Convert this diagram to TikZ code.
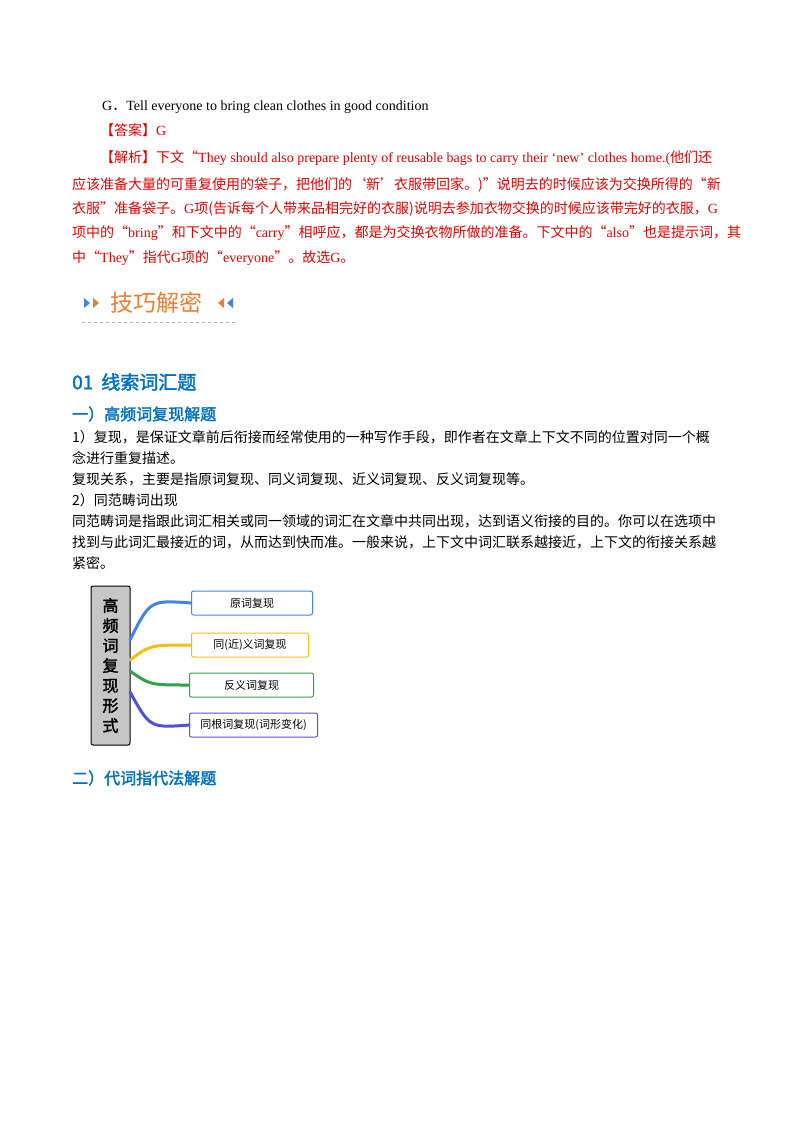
\documentclass[tikz,border=0pt]{standalone}
\usepackage{fontspec}
\setmainfont{Liberation Serif}
\newfontfamily\cjk{Noto Sans CJK SC}
\newfontfamily\cjkb{Noto Sans CJK SC}[FakeBold=2]
\newcommand\zh[1]{{\cjk #1}}
\definecolor{ansred}{RGB}{230,0,0}
\definecolor{hblue}{RGB}{0,112,192}
\definecolor{orng}{RGB}{237,125,49}
\definecolor{c1}{RGB}{70,130,230}
\definecolor{c2}{RGB}{245,190,20}
\definecolor{c3}{RGB}{50,160,70}
\definecolor{c4}{RGB}{80,80,220}
\begin{document}
\begin{tikzpicture}[x=1pt,y=-1pt,
  txt/.style={anchor=base west,inner sep=0pt,font=\fontsize{14}{14}\selectfont},
  red/.style={txt,text=ansred},
  bbox/.style={draw,rounded corners=2pt,line width=1pt,minimum height=24pt,anchor=west,inner xsep=10pt,font=\cjk\fontsize{11}{11}\selectfont},
  link/.style={line width=3pt,line cap=round}]
\useasboundingbox (0,0) rectangle (800,1132);
\node[txt] (l1) at (102,110) {G\zh{．}Tell everyone to bring clean clothes in good condition};
\node[red] (l2) at (100,135) {\zh{【答案】}G};
\node[red] (l3) at (100,162) {\zh{【解析】下文“}They should also prepare plenty of reusable bags to carry their ‘new’ clothes home.(\zh{他们还}};
\node[red] (l4) at (72,189) {\zh{应该准备大量的可重复使用的袋子，把他们的‘新’衣服带回家。)”说明去的时候应该为交换所得的“新}};
\node[red] (l5) at (72,213) {\zh{衣服”准备袋子。}G\zh{项(告诉每个人带来品相完好的衣服)说明去参加衣物交换的时候应该带完好的衣服，}G};
\node[red] (l6) at (72,237) {\zh{项中的“}bring\zh{”和下文中的“}carry\zh{”相呼应，都是为交换衣物所做的准备。下文中的“}also\zh{”也是提示词，其}};
\node[red] (l7) at (72,262) {\zh{中“}They\zh{”指代}G\zh{项的“}everyone\zh{”。故选}G\zh{。}};
% tips heading
\fill[c1] (84,298) -- (90,303) -- (84,308) -- cycle;
\fill[orng] (93,298) -- (99,303) -- (93,308) -- cycle;
\node[anchor=west,inner sep=0pt,text=orng,font=\cjk\fontsize{23}{23}\selectfont] (tips) at (110,303) {技巧解密};
\fill[orng] (224,298) -- (218,303) -- (224,308) -- cycle;
\fill[c1] (233,298) -- (227,303) -- (233,308) -- cycle;
\draw[gray!60,dashed,line width=0.6pt] (82,322) -- (236,322);
\node[anchor=west,inner sep=0pt,text=hblue,font=\cjkb\fontsize{19}{19}\selectfont] (h1) at (72,382) {01\hspace{8pt}线索词汇题};
\node[anchor=west,inner sep=0pt,text=hblue,font=\cjkb\fontsize{16}{16}\selectfont] (h2) at (72,414) {一）高频词复现解题};
\node[txt] (b1) at (72,442) {\zh{1）复现，是保证文章前后衔接而经常使用的一种写作手段，即作者在文章上下文不同的位置对同一个概}};
\node[txt] (b2) at (72,463) {\zh{念进行重复描述。}};
\node[txt] (b3) at (72,484) {\zh{复现关系，主要是指原词复现、同义词复现、近义词复现、反义词复现等。}};
\node[txt] (b4) at (72,505) {\zh{2）同范畴词出现}};
\node[txt] (b5) at (72,526) {\zh{同范畴词是指跟此词汇相关或同一领域的词汇在文章中共同出现，达到语义衔接的目的。你可以在选项中}};
\node[txt] (b6) at (72,547) {\zh{找到与此词汇最接近的词，从而达到快而准。一般来说，上下文中词汇联系越接近，上下文的衔接关系越}};
\node[txt] (b7) at (72,568) {\zh{紧密。}};
% diagram
\node[draw,fill=gray!45,rounded corners=2pt,line width=1pt,minimum width=39pt,minimum height=159pt,align=center,font=\cjkb\fontsize{16}{20}\selectfont] (root) at (110.5,665.5) {高\\频\\词\\复\\现\\形\\式};
\node[bbox,draw=c1,minimum width=121pt] (n1) at (191,603) {原词复现};
\node[bbox,draw=c2,minimum width=117pt] (n2) at (191,645) {同(近)义词复现};
\node[bbox,draw=c3,minimum width=124pt] (n3) at (189,685) {反义词复现};
\node[bbox,draw=c4,minimum width=128pt] (n4) at (189,725) {同根词复现(词形变化)};
\coordinate (r1) at (130,640);
\coordinate (r2) at (130,660);
\coordinate (r3) at (130,671);
\coordinate (r4) at (130,692);
\draw[link,c1] (r1) .. controls (150,600) .. (n1.west);
\draw[link,c2] (r2) .. controls (150,645) .. (n2.west);
\draw[link,c3] (r3) .. controls (150,685) .. (n3.west);
\draw[link,c4] (r4) .. controls (150,728) .. (n4.west);
\node[anchor=west,inner sep=0pt,text=hblue,font=\cjkb\fontsize{16}{16}\selectfont] (h3) at (72,778) {二）代词指代法解题};
\end{tikzpicture}
\end{document}
